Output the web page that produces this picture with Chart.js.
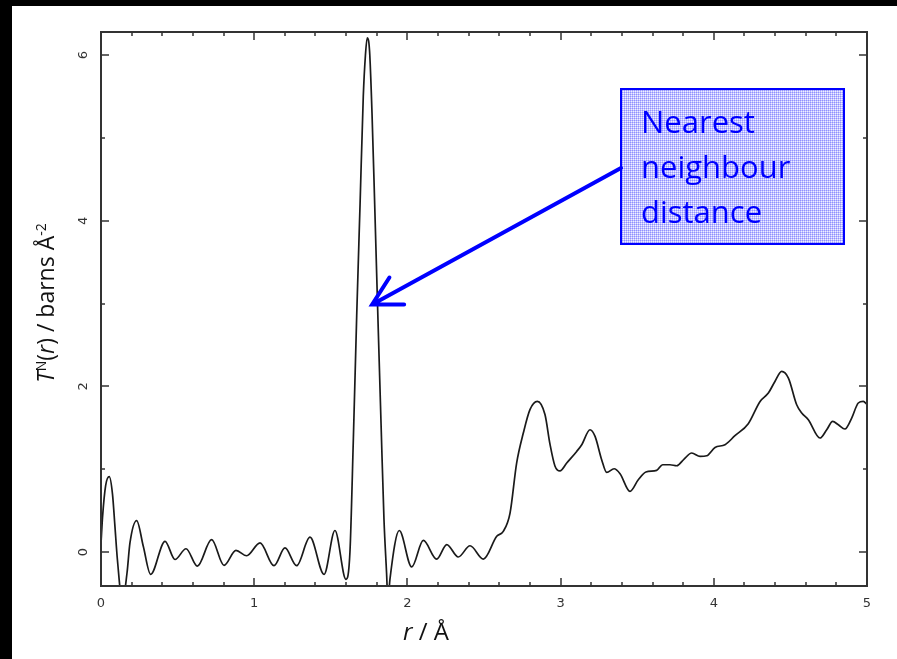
<!DOCTYPE html>
<html>
<head>
<meta charset="utf-8">
<script src="https://cdn.jsdelivr.net/npm/chart.js@4/dist/chart.umd.min.js"></script>
<style>
  html, body { margin: 0; padding: 0; background: #000; overflow: hidden; }
  #sheet { position: absolute; left: 12px; top: 6px; width: 885px; height: 653px; background: #fff; }
  #plot { position: absolute; left: 0; top: 0; }
</style>
</head>
<body>
<div id="sheet"></div>
<canvas id="plot" width="897" height="659"></canvas>
<script>
// neutron total correlation function T^N(r)
const rValues = [
  0.000, 0.010, 0.030, 0.054, 0.075, 0.091, 0.107, 0.140, 0.170, 0.189,
  0.233, 0.276, 0.324, 0.418, 0.483, 0.555, 0.629, 0.722, 0.803, 0.881,
  0.951, 1.038, 1.129, 1.201, 1.277, 1.364, 1.456, 1.527, 1.599, 1.625,
  1.647, 1.669, 1.691, 1.712, 1.726, 1.738, 1.753, 1.769, 1.788, 1.808,
  1.828, 1.847, 1.864, 1.873,
  1.886, 1.947, 2.028, 2.104, 2.191, 2.257, 2.332, 2.409, 2.496, 2.583,
  2.626, 2.670, 2.713, 2.757, 2.800, 2.848, 2.898, 2.931, 2.963, 2.996,
  3.040, 3.105, 3.138, 3.192, 3.225, 3.268, 3.301, 3.349, 3.388, 3.453,
  3.507, 3.557, 3.627, 3.666, 3.714, 3.758, 3.806, 3.856, 3.910, 3.954,
  4.008, 4.073, 4.138, 4.225, 4.302, 4.356, 4.399, 4.443, 4.487, 4.541,
  4.574, 4.617, 4.693, 4.737, 4.776, 4.813, 4.856, 4.900, 4.943, 4.976,
  5.000
];
const tValues = [
  0.10, 0.42, 0.80, 0.91, 0.70, 0.31, -0.09, -0.60, -0.25, 0.11,
  0.38, 0.07, -0.27, 0.13, -0.09, 0.04, -0.17, 0.15, -0.16, 0.02,
  -0.045, 0.11, -0.165, 0.05, -0.165, 0.18, -0.27, 0.26, -0.33, 0.00,
  1.35, 2.85, 4.20, 5.50, 6.00, 6.21, 6.05, 5.30, 4.10, 2.80,
  1.55, 0.40, -0.25, -0.60,
  -0.33, 0.26, -0.18, 0.14, -0.085, 0.09, -0.06, 0.076, -0.085, 0.19,
  0.25, 0.47, 1.075, 1.44, 1.72, 1.82, 1.66, 1.30, 1.04, 0.98,
  1.075, 1.215, 1.296, 1.477, 1.396, 1.115, 0.961, 1.006, 0.946, 0.732,
  0.873, 0.966, 0.986, 1.054, 1.054, 1.042, 1.123, 1.196, 1.155, 1.163,
  1.263, 1.296, 1.405, 1.55, 1.819, 1.92, 2.06, 2.181, 2.101, 1.779,
  1.679, 1.598, 1.377, 1.477, 1.577, 1.537, 1.486, 1.618, 1.80, 1.82,
  1.78
];

const xMajorTicks = [0, 1, 2, 3, 4, 5];
const xMinorTicks = [0.2, 0.4, 0.6, 0.8, 1.2, 1.4, 1.6, 1.8, 2.2, 2.4, 2.6, 2.8,
                     3.2, 3.4, 3.6, 3.8, 4.2, 4.4, 4.6, 4.8];
const yMajorTicks = [0, 2, 4, 6];
const yMinorTicks = [1, 3, 5];

// arrow target (r, T) and the label lines
const arrowTip = { r: 1.77, t: 2.99 };
const noteLines = ["Nearest", "neighbour", "distance"];

const BLUE = "#0000ff";
const AXIS = "#333333";

// dotted fill used by the label box
function boxPattern(ctx) {
    const tile = document.createElement("canvas");
    tile.width = 2; tile.height = 2;
    const t = tile.getContext("2d");
    t.fillStyle = "#c0c0ff"; t.fillRect(0, 0, 2, 2);
    t.fillStyle = "#9090ff"; t.fillRect(0, 0, 1, 1);
    t.fillStyle = "#f0f0ff"; t.fillRect(1, 1, 1, 1);
    return ctx.createPattern(tile, "repeat");
}

// draw a run of text pieces (italic / superscript) starting at x along the baseline
function drawPieces(ctx, pieces, size, x) {
    for (const p of pieces) {
        const fs = p.sup ? Math.round(size * 0.62) : size;
        ctx.font = (p.italic ? "italic " : "") + fs + "px 'Open Sans'";
        ctx.fillText(p.text, x, p.sup ? -size * 0.36 : 0);
        x += ctx.measureText(p.text).width;
    }
    return x;
}
function piecesWidth(ctx, pieces, size) {
    let w = 0;
    for (const p of pieces) {
        const fs = p.sup ? Math.round(size * 0.62) : size;
        ctx.font = (p.italic ? "italic " : "") + fs + "px 'Open Sans'";
        w += ctx.measureText(p.text).width;
    }
    return w;
}

const xTitle = [{ text: "r", italic: true }, { text: " / Å" }];
const yTitle = [
    { text: "T", italic: true }, { text: "N", sup: true }, { text: "(" },
    { text: "r", italic: true }, { text: ") / barns Å" }, { text: "-2", sup: true }
];

const framePlugin = {
    id: "framePlugin",
    afterDatasetsDraw(chart) {
        const { ctx, chartArea: a, scales: { x, y } } = chart;
        ctx.save();
        ctx.strokeStyle = AXIS;
        ctx.lineWidth = 2;
        ctx.strokeRect(a.left, a.top, a.right - a.left, a.bottom - a.top);

        // inward ticks on all four sides
        ctx.lineWidth = 1.5;
        ctx.beginPath();
        const xt = (v, len) => {
            const px = Math.round(x.getPixelForValue(v));
            ctx.moveTo(px, a.bottom); ctx.lineTo(px, a.bottom - len);
            ctx.moveTo(px, a.top); ctx.lineTo(px, a.top + len);
        };
        const yt = (v, len) => {
            const py = Math.round(y.getPixelForValue(v));
            ctx.moveTo(a.left, py); ctx.lineTo(a.left + len, py);
            ctx.moveTo(a.right, py); ctx.lineTo(a.right - len, py);
        };
        xMajorTicks.forEach(v => xt(v, 8));
        xMinorTicks.forEach(v => xt(v, 4));
        yMajorTicks.forEach(v => yt(v, 8));
        yMinorTicks.forEach(v => yt(v, 4));
        ctx.stroke();

        // axis titles
        ctx.fillStyle = "#111";
        ctx.textBaseline = "alphabetic";
        ctx.textAlign = "left";
        ctx.save();
        ctx.translate(403, 640);
        drawPieces(ctx, xTitle, 24, 0);
        ctx.restore();

        ctx.save();
        ctx.translate(54, 303);
        ctx.rotate(-Math.PI / 2);
        const w = piecesWidth(ctx, yTitle, 23);
        drawPieces(ctx, yTitle, 23, -w / 2);
        ctx.restore();

        // label box with arrow pointing at the first peak
        const bx = 621, by = 89, bw = 223, bh = 155;
        ctx.fillStyle = boxPattern(ctx);
        ctx.fillRect(bx, by, bw, bh);
        ctx.strokeStyle = BLUE;
        ctx.lineWidth = 2;
        ctx.strokeRect(bx, by, bw, bh);

        ctx.fillStyle = BLUE;
        ctx.font = "31px 'Open Sans'";
        noteLines.forEach((s, i) => ctx.fillText(s, 641, 133 + i * 45));

        const tx = x.getPixelForValue(arrowTip.r);
        const ty = y.getPixelForValue(arrowTip.t);
        const sx = bx, sy = 168;
        const ang = Math.atan2(sy - ty, sx - tx);
        ctx.lineWidth = 4;
        ctx.lineCap = "round";
        ctx.beginPath();
        ctx.moveTo(sx, sy);
        ctx.lineTo(tx, ty);
        const armLen = 32, spread = 0.5;
        ctx.moveTo(tx + armLen * Math.cos(ang - spread), ty + armLen * Math.sin(ang - spread));
        ctx.lineTo(tx, ty);
        ctx.lineTo(tx + armLen * Math.cos(ang + spread), ty + armLen * Math.sin(ang + spread));
        ctx.stroke();
        ctx.restore();
    }
};

const points = rValues.map((r, i) => ({ x: r, y: tValues[i] }));

new Chart(document.getElementById("plot"), {
    type: "line",
    data: {
        datasets: [{
            data: points,
            borderColor: "#1a1a1a",
            borderWidth: 1.7,
            pointRadius: 0,
            fill: false,
            cubicInterpolationMode: "monotone"
        }]
    },
    options: {
        responsive: false,
        animation: false,
        events: [],
        layout: { padding: { top: 32, right: 30, left: 0, bottom: 0 } },
        plugins: { legend: { display: false }, tooltip: { enabled: false } },
        scales: {
            x: {
                type: "linear",
                min: 0,
                max: 5,
                grid: { display: false, drawTicks: false },
                border: { display: false },
                afterBuildTicks: s => { s.ticks = xMajorTicks.map(v => ({ value: v })); },
                afterFit: s => { s.height = 73; },
                ticks: {
                    color: AXIS,
                    font: { family: "DejaVu Sans", size: 13 },
                    padding: 10,
                    maxRotation: 0,
                    autoSkip: false
                }
            },
            y: {
                type: "linear",
                min: -0.41,
                max: 6.28,
                grid: { display: false, drawTicks: false },
                border: { display: false },
                afterBuildTicks: s => { s.ticks = yMajorTicks.map(v => ({ value: v })); },
                afterFit: s => { s.width = 101; },
                ticks: {
                    color: AXIS,
                    font: { family: "DejaVu Sans", size: 13 },
                    padding: 13,
                    minRotation: 90,
                    maxRotation: 90,
                    crossAlign: "center",
                    autoSkip: false
                }
            }
        }
    },
    plugins: [framePlugin]
});
</script>
</body>
</html>
